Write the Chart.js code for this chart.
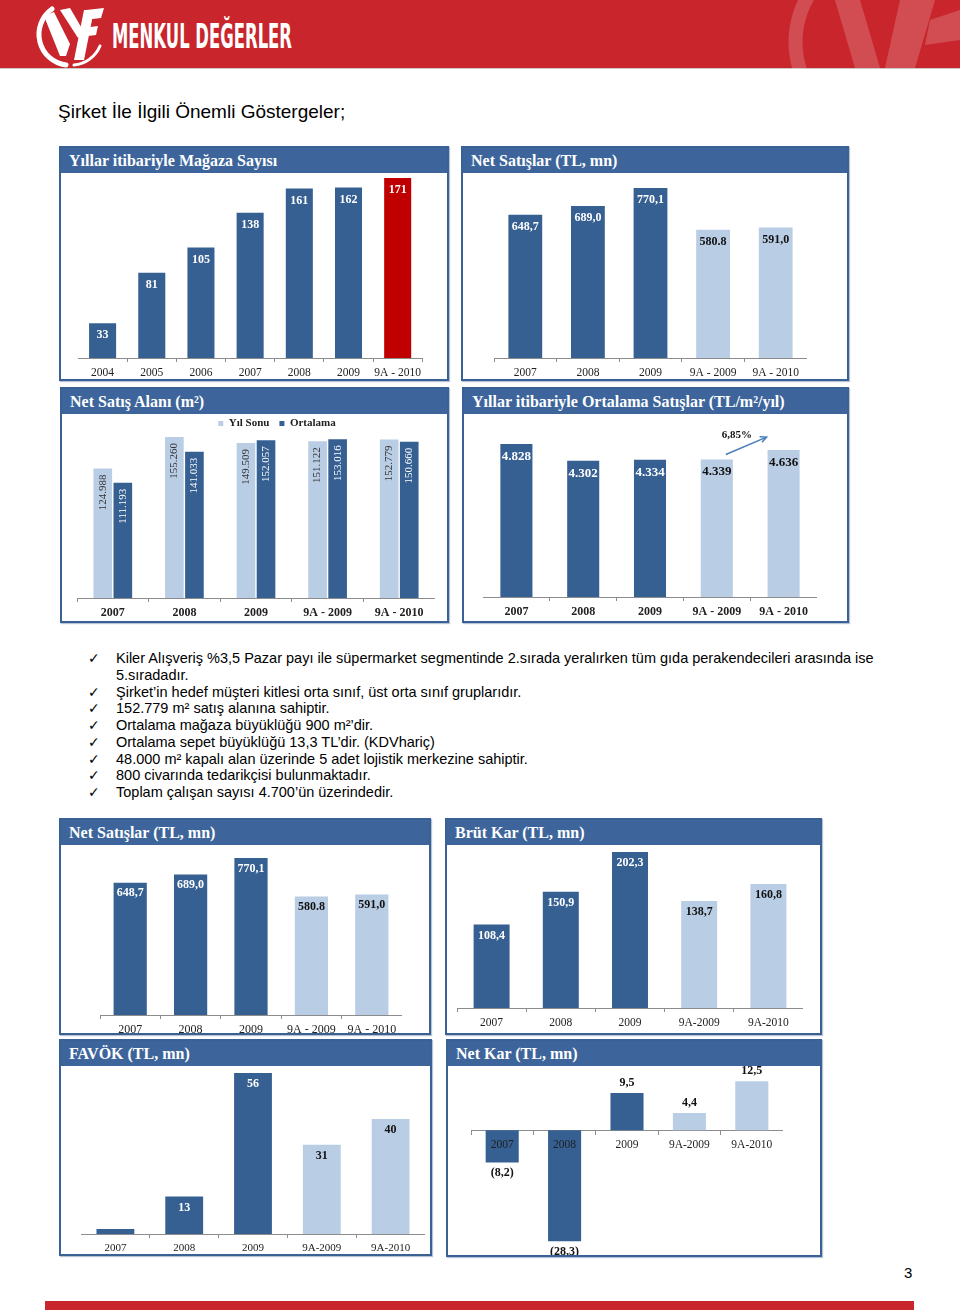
<!DOCTYPE html>
<html><head><meta charset="utf-8">
<script src="https://cdn.jsdelivr.net/npm/chart.js@4.4.0/dist/chart.umd.min.js"></script>
<style>
body{margin:0;width:960px;height:1314px;position:relative;background:#fff;font-family:"Liberation Sans",Arial,sans-serif;overflow:hidden}
.panel{position:absolute;border:2px solid #3a6196;box-sizing:border-box;background:#fff;overflow:hidden;box-shadow:1px 1px 1px #b8c4d4}
.ptitle{position:absolute;left:0;top:0;right:0;height:25px;background:#3d659b;color:#fff;font:bold 16px "Liberation Serif","DejaVu Serif",serif;padding-left:8px;line-height:25px;white-space:nowrap}
.wrap{position:absolute}
.title{position:absolute;left:58px;top:101px;font-size:19px;color:#000}
.bl{position:absolute;left:116px;top:650px;font-size:14.5px;line-height:16.75px;color:#000}
.bl div{position:relative;white-space:nowrap}
.ck{position:absolute;left:-28px;top:0;font-family:"DejaVu Sans";font-size:14px}
</style></head>
<body>
<svg width="960" height="69" style="position:absolute;left:0;top:0">
  <rect x="0" y="0" width="960" height="68" fill="#c8262c"/>
  <line x1="0" y1="68.5" x2="960" y2="68.5" stroke="#c9c9c9"/>
  <g fill="none" stroke="#fff" stroke-linecap="round">
    <path d="M 52 9 A 31 31 0 0 0 66 65" stroke-width="5"/>
    <path d="M 74 65 A 31 31 0 0 0 100 46" stroke-width="3"/>
  </g>
  <g fill="#fff">
    <polygon points="44,16 54,12 70,44 66,56 60,56"/>
    <polygon points="60,10 70,8 84,32 78,38"/>
    <polygon points="84,10 94,10 84,60 74,60"/>
    <polygon points="86,10 104,8 101,18 84,20"/>
    <polygon points="82,28 98,26 96,35 80,37"/>
  </g>
  <text x="112" y="48" fill="#fff" font-family="DejaVu Sans" font-weight="bold" font-size="34" textLength="180" lengthAdjust="spacingAndGlyphs">MENKUL DEĞERLER</text>
  <g opacity="0.18" fill="none" stroke="#fff">
    <path d="M 812 -10 A 90 90 0 0 0 800 70" stroke-width="14"/>
  </g>
  <g opacity="0.18" fill="#fff">
    <polygon points="835,0 860,0 880,68 855,68"/>
    <polygon points="900,0 935,0 915,68 885,68"/>
    <polygon points="930,20 960,10 960,40 925,45"/>
  </g>
</svg>
<div class="title">Şirket İle İlgili Önemli Göstergeler;</div>
<div class="bl">
  <div><span class="ck">✓</span>Kiler Alışveriş %3,5 Pazar payı ile süpermarket segmentinde 2.sırada yeralırken tüm gıda perakendecileri arasında ise<br>5.sıradadır.</div>
  <div><span class="ck">✓</span>Şirket’in hedef müşteri kitlesi orta sınıf, üst orta sınıf gruplarıdır.</div>
  <div><span class="ck">✓</span>152.779 m² satış alanına sahiptir.</div>
  <div><span class="ck">✓</span>Ortalama mağaza büyüklüğü 900 m²’dir.</div>
  <div><span class="ck">✓</span>Ortalama sepet büyüklüğü 13,3 TL’dir. (KDVhariç)</div>
  <div><span class="ck">✓</span>48.000 m² kapalı alan üzerinde 5 adet lojistik merkezine sahiptir.</div>
  <div><span class="ck">✓</span>800 civarında tedarikçisi bulunmaktadır.</div>
  <div><span class="ck">✓</span>Toplam çalışan sayısı 4.700’ün üzerindedir.</div>
</div>
<div style="position:absolute;left:904px;top:1264px;font-size:15px">3</div>
<div style="position:absolute;left:45px;top:1301px;width:869px;height:9px;background:#c8262c"></div>

<script>
// ---------- DATA ----------
const storeYears = ['2004','2005','2006','2007','2008','2009','9A - 2010'];
const storeCounts = [33, 81, 105, 138, 161, 162, 171];
const storeLabels = ['33','81','105','138','161','162','171'];

const salesYears = ['2007','2008','2009','9A - 2009','9A - 2010'];
const netSales = [648.7, 689.0, 770.1, 580.8, 591.0];
const netSalesLabels = ['648,7','689,0','770,1','580.8','591,0'];

const areaYears = ['2007','2008','2009','9A - 2009','9A - 2010'];
const areaYearEnd = [124988, 155260, 149509, 151122, 152779];
const areaYearEndLabels = ['124.988','155.260','149.509','151.122','152.779'];
const areaAverage = [111193, 141033, 152057, 153016, 150660];
const areaAverageLabels = ['111.193','141.033','152.057','153.016','150.660'];

const avgSalesYears = ['2007','2008','2009','9A - 2009','9A - 2010'];
const avgSales = [4828, 4302, 4334, 4339, 4636];
const avgSalesLabels = ['4.828','4.302','4.334','4.339','4.636'];
const avgSalesGrowth = {from: '9A - 2009', to: '9A - 2010', text: '6,85%'};

const finYears = ['2007','2008','2009','9A-2009','9A-2010'];
const grossProfit = [108.4, 150.9, 202.3, 138.7, 160.8];
const grossProfitLabels = ['108,4','150,9','202,3','138,7','160,8'];
const ebitda = [1.7, 13, 56, 31, 40];
const ebitdaLabels = ['', '13', '56', '31', '40'];
const netProfit = [-8.2, -28.3, 9.5, 4.4, 12.5];
const netProfitLabels = ['(8,2)','(28,3)','9,5','4,4','12,5'];

// ---------- STYLE ----------
const SERIF = '"Liberation Serif","DejaVu Serif",serif';
const DARK = '#376092', LIGHT = '#b9cde5', RED = '#c00000';
const actualVsPartial = [DARK, DARK, DARK, LIGHT, LIGHT];
const labelOnColor = c => (c === LIGHT ? '#111' : '#fff');

const valueLabels = {
  id: 'valueLabels',
  afterDatasetsDraw(chart, args, o) {
    if (!o || !o.mode) return;
    const ctx = chart.ctx;
    chart.data.datasets.forEach((ds, di) => {
      const meta = chart.getDatasetMeta(di);
      meta.data.forEach((bar, i) => {
        const txt = ds.valueText ? ds.valueText[i] : '';
        if (!txt) return;
        const col = Array.isArray(ds.labelColor) ? ds.labelColor[i] : ds.labelColor;
        ctx.save();
        ctx.fillStyle = col;
        ctx.font = o.font;
        ctx.textBaseline = 'middle';
        if (o.mode === 'rotated') {
          ctx.translate(bar.x, bar.y + o.offset);
          ctx.rotate(-Math.PI / 2);
          ctx.textAlign = 'right';
          ctx.fillText(txt, 0, 0);
        } else if (o.mode === 'inside') {
          ctx.textAlign = 'center';
          ctx.fillText(txt, bar.x, bar.y + o.offset);
        } else {
          ctx.textAlign = 'center';
          const neg = ds.data[i] < 0;
          ctx.fillText(txt, bar.x, neg ? bar.y + o.offset : bar.y - o.offset);
        }
        ctx.restore();
      });
    });
  }
};

const growthArrow = {
  id: 'growthArrow',
  afterDatasetsDraw(chart, args, o) {
    if (!o || !o.spec) return;
    const meta = chart.getDatasetMeta(0);
    const labels = chart.data.labels;
    const b0 = meta.data[labels.indexOf(o.spec.from)];
    const b1 = meta.data[labels.indexOf(o.spec.to)];
    const ctx = chart.ctx;
    const x0 = b0.x + 9, y0 = b0.y - 5, x1 = b1.x - 17, y1 = b1.y - 13;
    ctx.save();
    ctx.strokeStyle = '#4a7ebb'; ctx.lineWidth = 1.5;
    ctx.beginPath(); ctx.moveTo(x0, y0); ctx.lineTo(x1, y1); ctx.stroke();
    const a = Math.atan2(y1 - y0, x1 - x0);
    ctx.beginPath();
    ctx.moveTo(x1 - 7 * Math.cos(a - 0.45), y1 - 7 * Math.sin(a - 0.45));
    ctx.lineTo(x1, y1);
    ctx.lineTo(x1 - 7 * Math.cos(a + 0.45), y1 - 7 * Math.sin(a + 0.45));
    ctx.stroke();
    ctx.fillStyle = '#111'; ctx.font = 'bold 11px ' + SERIF;
    ctx.textAlign = 'center'; ctx.textBaseline = 'middle';
    ctx.fillText(o.spec.text, x0 + 11, y0 - 19);
    ctx.restore();
  }
};

// nudges the legend box after layout (legend centred slightly right of the plot in the original)
const legendShift = {
  id: 'legendShift',
  afterLayout(chart, args, o) {
    if (!o || !chart.legend || !(o.dx || o.dy)) return;
    const lg = chart.legend;
    lg.left += o.dx || 0; lg.right += o.dx || 0;
    lg.top += o.dy || 0; lg.bottom += o.dy || 0;
  }
};

// ---------- LAYOUT ----------
const B = 2;
function makePanel(p, title) {
  const d = document.createElement('div');
  d.className = 'panel';
  Object.assign(d.style, {left: p[0] + 'px', top: p[1] + 'px', width: p[2] + 'px', height: p[3] + 'px'});
  const t = document.createElement('div');
  t.className = 'ptitle'; t.textContent = title;
  d.appendChild(t);
  document.body.appendChild(d);
  return d;
}
function makeCanvas(pd, p, c) {
  const w = document.createElement('div');
  w.className = 'wrap';
  Object.assign(w.style, {left: (c[0] - p[0] - B) + 'px', top: (c[1] - p[1] - B) + 'px', width: c[2] + 'px', height: c[3] + 'px'});
  const cv = document.createElement('canvas');
  w.appendChild(cv); pd.appendChild(w);
  return cv;
}

function barChart(p, title, c, cfg) {
  const pd = makePanel(p, title);
  const cv = makeCanvas(pd, p, c);
  const x = {
    grid: {display: true, drawOnChartArea: false, drawTicks: true, tickLength: 4, color: '#8c8c8c', offset: true},
    border: {display: true, color: '#8c8c8c', width: 1},
    ticks: {z: 1, font: {family: SERIF, size: cfg.tickSize || 11, weight: cfg.tickWeight || 'normal'}, color: cfg.tickColor || '#222', padding: cfg.tickPad || 4, maxRotation: 0, autoSkip: false}
  };
  if (cfg.xPos) x.position = cfg.xPos;
  else x.afterFit = s => { s.height = cfg.axisH; };
  return new Chart(cv, {
    type: 'bar',
    data: {labels: cfg.labels, datasets: cfg.datasets},
    options: {
      responsive: true, maintainAspectRatio: false, animation: false,
      layout: {padding: 0},
      plugins: {
        legend: cfg.legend || {display: false},
        tooltip: {enabled: false},
        valueLabels: cfg.vl,
        growthArrow: cfg.arrow || {},
        legendShift: cfg.legendShift || {}
      },
      scales: {x, y: {display: false, min: cfg.min || 0, max: cfg.max}}
    },
    plugins: [valueLabels, growthArrow, legendShift]
  });
}

function single(data, colors, txt, pct) {
  return [{data, backgroundColor: colors, valueText: txt, labelColor: colors.map(labelOnColor),
           categoryPercentage: 1, barPercentage: pct}];
}

// 1. Mağaza sayısı
const storeColors = storeCounts.map((v, i) => i === storeCounts.length - 1 ? RED : DARK);
barChart([59,146,390,235], 'Yıllar itibariyle Mağaza Sayısı', [78,175,347,205], {
  labels: storeYears, datasets: single(storeCounts, storeColors, storeLabels, 0.55),
  max: 173.9, axisH: 22, tickSize: 11.5,
  vl: {mode: 'inside', offset: 12, font: 'bold 12px ' + SERIF}
});

// 2. Net satışlar (top)
barChart([461,146,388,235], 'Net Satışlar (TL, mn)', [494,175,313,205], {
  labels: salesYears, datasets: single(netSales, actualVsPartial, netSalesLabels, 0.54),
  max: 829, axisH: 22, tickSize: 11.5,
  vl: {mode: 'inside', offset: 12, font: 'bold 12px ' + SERIF}
});

// 3. Net satış alanı
barChart([60,387,389,236], 'Net Satış Alanı (m²)', [77,405,358,215], {
  labels: areaYears,
  datasets: [
    {label: 'Yıl Sonu', data: areaYearEnd, backgroundColor: LIGHT, valueText: areaYearEndLabels, labelColor: '#333', categoryPercentage: 0.56, barPercentage: 0.93},
    {label: 'Ortalama', data: areaAverage, backgroundColor: DARK, valueText: areaAverageLabels, labelColor: '#fff', categoryPercentage: 0.56, barPercentage: 0.93}
  ],
  legend: {display: true, position: 'top', align: 'center',
    labels: {usePointStyle: true, pointStyle: 'rect', boxWidth: 5, boxHeight: 5, padding: 10, color: '#222',
             font: {family: SERIF, size: 11, weight: 'bold'}}},
  legendShift: {dx: 21, dy: 3},
  max: 156220, axisH: 22, tickSize: 12, tickWeight: 'bold',
  vl: {mode: 'rotated', offset: 6, font: '11px ' + SERIF}
});

// 4. Ortalama satışlar
barChart([462,387,387,236], 'Yıllar itibariyle Ortalama Satışlar (TL/m²/yıl)', [483,417,334,202], {
  labels: avgSalesYears, datasets: single(avgSales, actualVsPartial, avgSalesLabels, 0.48),
  max: 5680, axisH: 22, tickSize: 12, tickWeight: 'bold',
  vl: {mode: 'inside', offset: 12.5, font: 'bold 13px ' + SERIF},
  arrow: {spec: avgSalesGrowth}
});

// 5. Net satışlar (bottom)
barChart([59,818,372,217], 'Net Satışlar (TL, mn)', [100,845,302,190], {
  labels: salesYears, datasets: single(netSales, actualVsPartial, netSalesLabels, 0.55),
  max: 833.8, axisH: 20, tickSize: 12,
  vl: {mode: 'inside', offset: 10.5, font: 'bold 12px ' + SERIF}
});

// 6. Brüt kar
barChart([445,818,377,217], 'Brüt Kar (TL, mn)', [457,845,346,185], {
  labels: finYears, datasets: single(grossProfit, actualVsPartial, grossProfitLabels, 0.52),
  max: 211.4, axisH: 22, tickSize: 11.5,
  vl: {mode: 'inside', offset: 11, font: 'bold 12px ' + SERIF}
});

// 7. FAVÖK
barChart([59,1039,373,217], 'FAVÖK (TL, mn)', [81,1068,344,186], {
  labels: finYears, datasets: single(ebitda, actualVsPartial, ebitdaLabels, 0.55),
  max: 57.7, axisH: 20, tickSize: 11,
  vl: {mode: 'inside', offset: 11, font: 'bold 12px ' + SERIF}
});

// 8. Net kar
barChart([446,1039,376,218], 'Net Kar (TL, mn)', [471,1062,312,194], {
  labels: finYears, datasets: [{data: netProfit, backgroundColor: actualVsPartial, valueText: netProfitLabels,
    labelColor: '#111', categoryPercentage: 1, barPercentage: 0.53}],
  min: -32.05, max: 17.44, xPos: {y: 0}, tickSize: 11.5, tickColor: '#1e1e1e',
  vl: {mode: 'outside', offset: 10.5, font: 'bold 12px ' + SERIF}
});
</script>
</body></html>
